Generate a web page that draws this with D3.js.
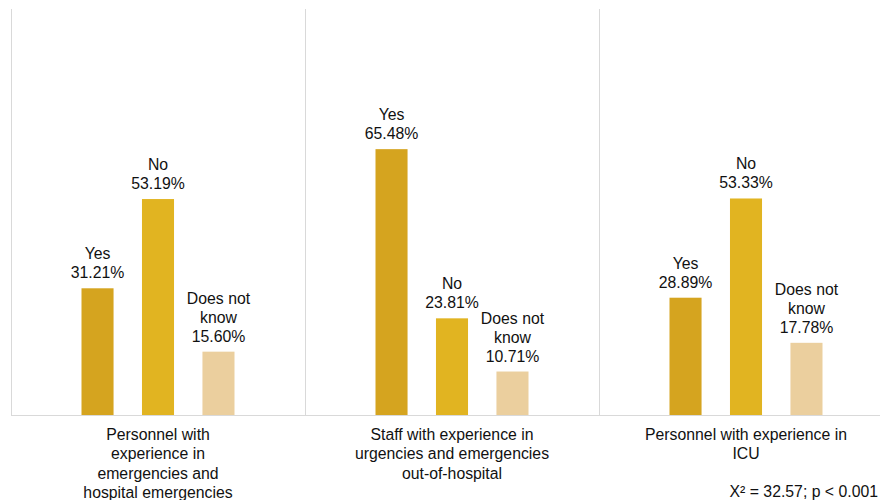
<!DOCTYPE html>
<html>
<head>
<meta charset="utf-8">
<script src="https://cdn.jsdelivr.net/npm/d3@7"></script>
<style>
	body { margin: 0; background: #fff; }
	text { font-family: "Liberation Sans", Arial, sans-serif; fill: #111; }
</style>
</head>
<body>
<svg id="chart" width="880" height="500"></svg>
<script>
// chart data
var groups = [
	["Personnel with", "experience in", "emergencies and", "hospital emergencies"],
	["Staff with experience in", "urgencies and emergencies", "out-of-hospital"],
	["Personnel with experience in", "ICU"]
];
var answers = ["Yes", "No", "Does not know"];
var answerLabels = [["Yes"], ["No"], ["Does not", "know"]];
var values = [
	[31.21, 53.19, 15.60],
	[65.48, 23.81, 10.71],
	[28.89, 53.33, 17.78]
];
var colors = ["#d5a41f", "#e1b421", "#ebcf9e"];
var note = "X² = 32.57; p < 0.001";

(function() {
	'use strict';

	var svg = d3.select("#chart"),
		top = 9,
		bottom = 415,
		left = 11,
		right = 893,
		fontSize = 15.8;

	var x0 = d3.scaleBand()
		.domain(d3.range(groups.length))
		.range([left, right]);

	var x1 = d3.scaleBand()
		.domain(answers)
		.range([-76.5, 76.5])
		.paddingInner(0.47)
		.paddingOuter(0.0);

	var y = d3.scaleLinear()
		.domain([0, 100])
		.range([bottom, top]);

	var lineColor = "#d9d9d9";

	// baseline and group separators
	svg.append("line")
		.attr("x1", left).attr("x2", 880)
		.attr("y1", bottom + 0.5).attr("y2", bottom + 0.5)
		.attr("stroke", lineColor);

	svg.selectAll("line.sep")
		.data(d3.range(groups.length))
		.enter()
		.append("line")
		.attr("class", "sep")
		.attr("x1", function(d) { return Math.round(x0(d)) + 0.5; })
		.attr("x2", function(d) { return Math.round(x0(d)) + 0.5; })
		.attr("y1", top)
		.attr("y2", bottom)
		.attr("stroke", lineColor);

	var g = svg.selectAll("g.group")
		.data(values)
		.enter()
		.append("g")
		.attr("class", "group")
		.attr("transform", function(d, i) {
			return "translate(" + (x0(i) + x0.bandwidth() / 2) + ",0)";
		});

	g.selectAll("rect")
		.data(function(d) { return d; })
		.enter()
		.append("rect")
		.attr("x", function(d, i) { return x1(answers[i]); })
		.attr("width", x1.bandwidth())
		.attr("y", function(d) { return y(d); })
		.attr("height", function(d) { return bottom - y(d); })
		.attr("fill", function(d, i) { return colors[i]; });

	// value labels above bars
	g.selectAll("text.val")
		.data(function(d) { return d; })
		.enter()
		.append("text")
		.attr("class", "val")
		.attr("text-anchor", "middle")
		.attr("font-size", fontSize)
		.attr("transform", function(d, i) {
			return "translate(" + (x1(answers[i]) + x1.bandwidth() / 2) + "," + (y(d) - 10) + ")";
		})
		.each(function(d, i) {
			var lines = answerLabels[i].concat([d.toFixed(2) + "%"]);
			var t = d3.select(this);
			lines.forEach(function(s, k) {
				t.append("tspan")
					.attr("x", 0)
					.attr("y", (k - lines.length + 1) * 19)
					.text(s);
			});
		});

	// category labels
	g.append("text")
		.attr("text-anchor", "middle")
		.attr("font-size", fontSize)
		.each(function(d, i) {
			var t = d3.select(this);
			groups[i].forEach(function(s, k) {
				t.append("tspan")
					.attr("x", 0)
					.attr("y", bottom + 25 + k * 19.3)
					.text(s);
			});
		});

	svg.append("text")
		.attr("x", 878)
		.attr("y", 497)
		.attr("text-anchor", "end")
		.attr("font-size", fontSize)
		.text(note);
})();
</script>
</body>
</html>
